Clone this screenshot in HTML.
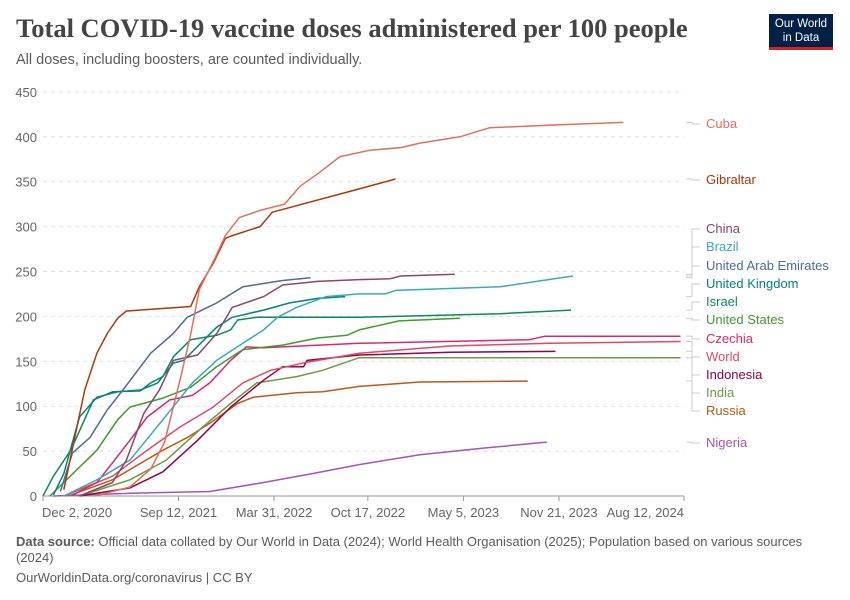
<!DOCTYPE html>
<html><head><meta charset="utf-8"><style>
body{margin:0;width:850px;height:600px;background:#fff;font-family:"Liberation Sans",sans-serif;overflow:hidden;position:relative}
.t{position:absolute}
</style></head><body>
<div class="t" style="left:16px;top:13px;font-family:'Liberation Serif',serif;font-size:26.5px;font-weight:bold;color:#444">Total COVID-19 vaccine doses administered per 100 people</div>
<div class="t" style="left:16px;top:52px;font-size:14.5px;color:#5b5b5b">All doses, including boosters, are counted individually.</div>
<div class="t" style="left:769px;top:14px;width:64px;height:36px;background:#002147;border-bottom:3px solid #ce261e;color:#fff;font-size:11.5px;text-align:center;line-height:14px;padding-top:3px;box-sizing:border-box">Our World<br>in Data</div>
<svg id="chart" width="850" height="600" style="position:absolute;left:0;top:0;font-family:'Liberation Sans',sans-serif"></svg>
<div class="t" style="left:16px;top:534px;width:790px;font-size:13px;line-height:16px;color:#5b5b5b"><b>Data source:</b> Official data collated by Our World in Data (2024); World Health Organisation (2025); Population based on various sources (2024)</div>
<div class="t" style="left:16px;top:570px;font-size:13px;color:#5b5b5b">OurWorldinData.org/coronavirus | CC BY</div>
<script>
const yTicks=[0,50,100,150,200,250,300,350,400,450];
const xTickLabels=["Dec 2, 2020","Sep 12, 2021","Mar 31, 2022","Oct 17, 2022","May 5, 2023","Nov 21, 2023","Aug 12, 2024"];
const xTickYears=[2020.92,2021.70,2022.25,2022.79,2023.34,2023.89,2024.61];
const seriesNames=["Cuba","Gibraltar","China","Brazil","United Arab Emirates","United Kingdom","Israel","United States","Czechia","World","Indonesia","India","Russia","Nigeria"];
const seriesColors=["#e56e5a","#b13507","#8c4569","#38aaba","#4c6a9c","#00847e","#0a8a5a","#3f9b2a","#e0266b","#e04a5f","#970046","#6b9a43","#be5915","#a652ba"];
const labelY=[128,184,233,251,270,288,306,324,343,361,379,397,415,447];
const cubaX=[2021.22,2021.42,2021.54,2021.62,2021.71,2021.77,2021.82,2021.91,2021.97,2022.05,2022.17,2022.31,2022.40,2022.51,2022.63,2022.80,2022.98,2023.09,2023.32,2023.49,2023.84,2024.26];
const cubaY=[0,10,30,60,130,180,230,265,290,310,318,325,345,360,378,385,388,393,400,410,413,416];
const gibX=[2021.04,2021.16,2021.23,2021.29,2021.35,2021.40,2021.77,2021.82,2021.90,2021.97,2022.01,2022.17,2022.24,2022.74,2022.95];
const gibY=[7,118,159,181,198,206,211,233,259,287,290,300,316,342,353];
const chinaX=[2021.13,2021.32,2021.40,2021.50,2021.59,2021.67,2021.81,2021.92,2022.01,2022.19,2022.30,2022.50,2022.74,2022.92,2022.98,2023.29];
const chinaY=[0,15,40,92,118,151,157,181,210,222,235,239,241,242,245,247];
const brazilX=[2021.04,2021.23,2021.42,2021.61,2021.78,2021.92,2022.07,2022.19,2022.27,2022.38,2022.55,2022.74,2022.89,2022.95,2023.55,2023.97];
const brazilY=[0,18,40,85,126,151,170,185,199,210,222,225,225,229,233,245];
const uaeX=[2021.02,2021.09,2021.19,2021.29,2021.38,2021.54,2021.67,2021.75,2021.92,2022.07,2022.30,2022.46];
const uaeY=[5,48,65,96,118,159,181,199,215,233,240,243];
const ukX=[2020.98,2021.04,2021.13,2021.23,2021.35,2021.48,2021.58,2021.67,2021.73,2021.92,2022.01,2022.19,2022.34,2022.50,2022.66];
const ukY=[1,25,88,110,116,118,126,148,151,188,199,207,215,220,222];
const israelX=[2020.92,2020.98,2021.08,2021.21,2021.32,2021.48,2021.54,2021.61,2021.67,2021.77,2021.92,2022.00,2022.04,2022.15,2022.74,2023.55,2023.96];
const israelY=[0,22,51,107,116,117,126,133,155,174,179,185,196,199,199,203,207];
const usX=[2020.96,2021.23,2021.35,2021.42,2021.61,2021.77,2021.92,2022.07,2022.30,2022.50,2022.67,2022.74,2022.97,2023.32];
const usY=[0,51,85,99,109,121,144,163,168,176,179,185,195,198];
const czX=[2021.09,2021.23,2021.32,2021.42,2021.52,2021.65,2021.78,2021.88,2022.00,2022.09,2022.19,2022.74,2023.72,2023.81,2024.59];
const czY=[1,15,37,62,88,107,112,126,151,166,165,170,174,178,178];
const worldX=[2021.04,2021.32,2021.52,2021.71,2021.90,2022.07,2022.23,2022.44,2022.74,2023.26,2023.84,2024.59];
const worldY=[0,22,51,77,99,126,140,149,159,167,170,172];
const indoX=[2021.13,2021.42,2021.61,2021.81,2022.00,2022.19,2022.30,2022.42,2022.44,2022.74,2023.26,2023.87];
const indoY=[0,9,27,62,99,129,144,144,151,157,160,161];
const indiaX=[2021.13,2021.42,2021.63,2021.84,2022.00,2022.15,2022.38,2022.53,2022.74,2022.92,2024.59];
const indiaY=[0,18,40,77,103,126,133,140,154,154,154];
const russiaX=[2021.08,2021.32,2021.61,2021.75,2021.88,2022.04,2022.13,2022.38,2022.53,2022.74,2023.09,2023.71];
const russiaY=[1,18,51,65,81,103,110,115,116,122,127,128];
const nigX=[2020.98,2021.42,2021.88,2022.19,2022.47,2022.74,2023.09,2023.44,2023.82];
const nigY=[0,3,5,15,25,35,46,53,60];
const allX=[cubaX,gibX,chinaX,brazilX,uaeX,ukX,israelX,usX,czX,worldX,indoX,indiaX,russiaX,nigX];
const allY=[cubaY,gibY,chinaY,brazilY,uaeY,ukY,israelY,usY,czY,worldY,indoY,indiaY,russiaY,nigY];

const X0=43,X1=684,YR0=2020.92,YR1=2024.61,Y0=496,YSC=0.898;
const xs=v=>X0+(v-YR0)/(YR1-YR0)*(X1-X0);
const ys=v=>Y0-v*YSC;
const svg=document.getElementById('chart');
const NS='http://www.w3.org/2000/svg';
function mk(tag,attrs){const e=document.createElementNS(NS,tag);for(const k in attrs)e.setAttribute(k,attrs[k]);svg.appendChild(e);return e;}
yTicks.forEach(v=>{
  if(v>0){const g=mk('line',{x1:X0,x2:X1,y1:ys(v),y2:ys(v),stroke:'#ddd','stroke-dasharray':'4,4'});
  
  }
  const t=mk('text',{x:37,y:ys(v)+5,'text-anchor':'end','font-size':13,fill:'#666'});t.textContent=v;
  
  
});
const ax=mk('line',{x1:X0,x2:X1,y1:Y0,y2:Y0,stroke:'#999'});


xTickYears.forEach((v,i)=>{
  const tk=mk('line',{x1:xs(v),x2:xs(v),y1:Y0,y2:Y0+5,stroke:'#999'});
  
  
  let anchor=i==0?'start':(i==xTickYears.length-1?'end':'middle');
  let tx=i==0?xs(v)-1:xs(v);
  const t=mk('text',{x:tx,y:Y0+21,'text-anchor':anchor,'font-size':13,fill:'#666'});t.textContent=xTickLabels[i];
  
  
});
for(let i=allX.length-1;i>=0;i--){
  const d=allX[i].map((x,j)=>(j?'L':'M')+xs(x).toFixed(1)+','+ys(allY[i][j]).toFixed(1)).join('');
  const p=mk('path',{d:d,fill:'none',stroke:seriesColors[i],'stroke-width':1.5,'stroke-linejoin':'round'});
  
  
}
seriesNames.forEach((n,i)=>{
  const lastY=ys(allY[i][allY[i].length-1]);
  const c=mk('path',{d:`M686,${lastY}L692,${lastY}L692,${labelY[i]-4}L700,${labelY[i]-4}`,fill:'none',stroke:'#ccc'});
  
  
  const t=mk('text',{x:706,y:labelY[i],'font-size':13,fill:seriesColors[i]});t.textContent=n;
  
  
});
</script>
</body></html>
